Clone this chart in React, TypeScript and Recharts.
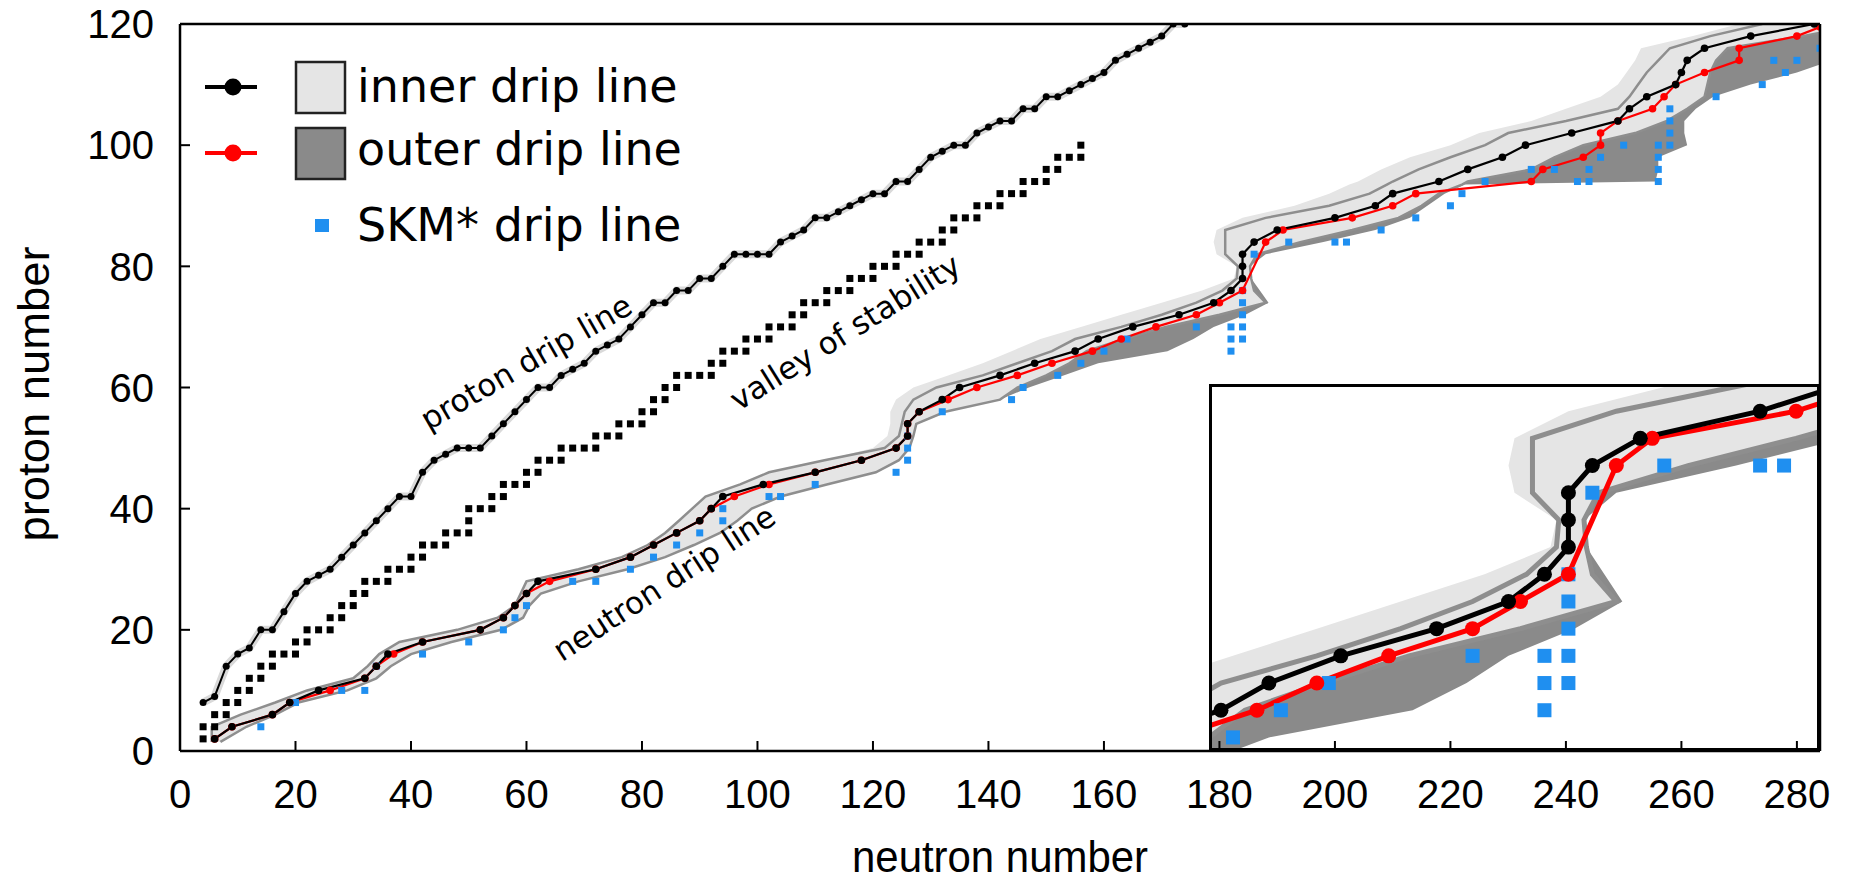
import React from 'react';
import { ComposedChart, Line, Area, Scatter, XAxis, YAxis } from 'recharts';

const W = 1858;
const H = 885;

const X_TICKS = [0, 20, 40, 60, 80, 100, 120, 140, 160, 180, 200, 220, 240, 260, 280];
const Y_TICKS = [0, 20, 40, 60, 80, 100, 120];

// proton drip line
const protonN = [4, 6, 8, 10, 12, 14, 16, 18, 20, 22, 24, 26, 28, 30, 32, 34, 36, 38, 40, 42, 44, 46, 48, 50, 52, 54, 56, 58, 60, 62, 64, 66, 68, 70, 72, 74, 76, 78, 80, 82, 84, 86, 88, 90, 92, 94, 96, 98, 100, 102, 104, 106, 108, 110, 112, 114, 116, 118, 120, 122, 124, 126, 128, 130, 132, 134, 136, 138, 140, 142, 144, 146, 148, 150, 152, 154, 156, 158, 160, 162, 164, 166, 168, 170, 172, 174];
const protonZ = [8, 9, 14, 16, 17, 20, 20, 23, 26, 28, 29, 30, 32, 34, 36, 38, 40, 42, 42, 46, 48, 49, 50, 50, 50, 52, 54, 56, 58, 60, 60, 62, 63, 64, 66, 67, 68, 70, 72, 74, 74, 76, 76, 78, 78, 80, 82, 82, 82, 82, 84, 85, 86, 88, 88, 89, 90, 91, 92, 92, 94, 94, 96, 98, 99, 100, 100, 102, 103, 104, 104, 106, 106, 108, 108, 109, 110, 111, 112, 114, 115, 116, 117, 118, 120, 120];

// valley of stability
const valleyN = [4, 4, 6, 6, 8, 8, 10, 10, 12, 12, 14, 14, 16, 16, 18, 20, 20, 22, 22, 24, 26, 26, 28, 28, 30, 30, 32, 32, 34, 36, 36, 38, 40, 40, 42, 42, 44, 46, 46, 48, 50, 50, 50, 52, 54, 54, 56, 56, 58, 60, 60, 62, 62, 64, 66, 66, 68, 70, 72, 72, 74, 76, 76, 78, 80, 80, 82, 82, 84, 84, 86, 86, 88, 90, 92, 92, 94, 94, 96, 98, 98, 100, 102, 102, 104, 106, 106, 108, 108, 110, 112, 112, 114, 116, 116, 118, 120, 120, 122, 124, 124, 126, 128, 128, 130, 132, 132, 134, 134, 136, 138, 138, 140, 142, 142, 144, 146, 146, 148, 150, 150, 152, 152, 154, 156, 156];
const valleyZ = [2, 4, 4, 6, 6, 8, 8, 10, 10, 12, 12, 14, 14, 16, 16, 16, 18, 18, 20, 20, 20, 22, 22, 24, 24, 26, 26, 28, 28, 28, 30, 30, 30, 32, 32, 34, 34, 34, 36, 36, 36, 38, 40, 40, 40, 42, 42, 44, 44, 44, 46, 46, 48, 48, 48, 50, 50, 50, 50, 52, 52, 52, 54, 54, 54, 56, 56, 58, 58, 60, 60, 62, 62, 62, 62, 64, 64, 66, 66, 66, 68, 68, 68, 70, 70, 70, 72, 72, 74, 74, 74, 76, 76, 76, 78, 78, 78, 80, 80, 80, 82, 82, 82, 84, 84, 84, 86, 86, 88, 88, 88, 90, 90, 90, 92, 92, 92, 94, 94, 94, 96, 96, 98, 98, 98, 100];

// inner (black) neutron drip line
const innerN = [6, 9, 16, 19, 24, 32, 34, 36, 42, 52, 56, 58, 60, 62, 72, 78, 82, 86, 90, 92, 94, 101, 110, 118, 124, 126, 126, 128, 132, 135, 142, 148, 155, 159, 165, 173, 179, 182, 184, 184, 184, 186, 190, 200, 207, 210, 218, 223, 229, 233, 241, 249, 251, 254, 259, 260, 261, 264, 272, 283];
const innerZ = [2, 4, 6, 8, 10, 12, 14, 16, 18, 20, 22, 24, 26, 28, 30, 32, 34, 36, 38, 40, 42, 44, 46, 48, 50, 52, 54, 56, 58, 60, 62, 64, 66, 68, 70, 72, 74, 76, 78, 80, 82, 84, 86, 88, 90, 92, 94, 96, 98, 100, 102, 104, 106, 108, 110, 112, 114, 116, 118, 120];

// outer (red) neutron drip line
const outerN = [6, 9, 16, 19, 26, 32, 34, 37, 42, 52, 56, 58, 60, 64, 72, 78, 82, 86, 90, 92, 96, 102, 110, 118, 124, 126, 126, 128, 133, 138, 145, 151, 158, 163, 169, 176, 180, 184, 188, 191, 203, 210, 214, 234, 236, 243, 246, 246, 249, 255, 257, 259, 264, 270, 270, 280, 284];
const outerZ = [2, 4, 6, 8, 10, 12, 14, 16, 18, 20, 22, 24, 26, 28, 30, 32, 34, 36, 38, 40, 42, 44, 46, 48, 50, 52, 54, 56, 58, 60, 62, 64, 66, 68, 70, 72, 74, 76, 84, 86, 88, 90, 92, 94, 96, 98, 100, 102, 104, 106, 108, 110, 112, 114, 116, 118, 119.5];

// SKM* drip line
const skmN = [14, 20, 28, 32, 34, 42, 50, 56, 58, 60, 68, 72, 78, 82, 86, 90, 94, 94, 102, 104, 110, 124, 126, 126, 126, 132, 144, 146, 152, 156, 160, 164, 176, 182, 182, 182, 184, 184, 184, 184, 184, 186, 192, 200, 202, 208, 214, 220, 222, 226, 234, 238, 242, 244, 244, 246, 250, 256, 256, 256, 256, 258, 258, 258, 258, 266, 274, 276, 278, 280, 284];
const skmZ = [4, 8, 10, 10, 14, 16, 18, 20, 22, 24, 28, 28, 30, 32, 34, 36, 38, 40, 42, 42, 44, 46, 48, 50, 52, 56, 58, 60, 62, 64, 66, 68, 70, 66, 68, 70, 68, 70, 72, 74, 76, 82, 84, 84, 84, 86, 88, 90, 92, 94, 96, 96, 94, 94, 96, 98, 100, 94, 96, 98, 100, 100, 102, 104, 106, 108, 110, 114, 112, 114, 116];

// uncertainty bands, given as neutron-number ranges at each proton number
const bandZ = [1.5, 4, 6, 8, 10, 12, 14, 16, 18, 20, 22, 24, 26, 28, 30, 32, 34, 36, 38, 40, 42, 44, 46, 48, 50, 52, 54, 56, 58, 60, 62, 64, 66, 68, 70, 72, 74, 76, 78, 80, 82, 84, 86, 88, 90, 92, 93.5, 94, 96, 98, 100, 102, 104, 106, 108, 110, 112, 114, 116, 118, 120];
const bandLightLo = [5.5, 5.5, 10.5, 16.5, 22, 30, 32.5, 34.5, 38, 48, 55, 58, 59, 60, 69, 76.5, 81, 84, 86.4, 88.7, 91, 97, 102, 111.6, 120, 122.5, 123, 123, 124, 127, 133, 139, 144, 149, 156, 163, 170, 177, 182.5, 183, 179.5, 179, 179.5, 184, 193, 199, 202.5, 204, 208, 213, 220, 225, 234, 240, 246, 249, 250.5, 252, 253, 262, 270];
const bandOutLo = [5.5, 5.5, 10.5, 16.5, 22, 30, 32.5, 34.5, 38, 48, 55, 58, 59, 60, 69, 76.5, 81, 84, 86.4, 88.7, 91, 97, 102, 111.6, 122, 124.5, 125, 125.5, 127, 131, 139, 145, 151, 155, 163, 170, 176, 180.5, 183, 183.2, 181, 181, 181, 188, 199, 206, 209, 210, 214.5, 220, 226, 230, 240, 249, 251, 252.5, 254, 256, 258, 265, 274];
const bandOutHi = [7, 11.5, 16.5, 20.5, 29, 34, 36.5, 40, 47, 55.6, 59.4, 60.5, 62.5, 69, 77.5, 84, 89, 93.5, 96.5, 99, 104, 112, 120.5, 124.5, 126.3, 127, 127.5, 132.5, 142, 145, 150, 154, 157, 163.5, 170.7, 180, 188, 186, 185.5, 185.3, 186.5, 194, 203, 211, 215, 218, 222, 223, 234, 238, 243, 252, 257.5, 261, 264, 264.5, 265, 266, 268, 281, 292];
const bandDarkHi = [7, 11.5, 16.5, 20.5, 29, 34, 36.5, 40, 47, 55.6, 59.4, 60.5, 62.5, 69, 77.5, 84, 89, 93.5, 96.5, 99, 104, 112, 120.5, 124.5, 126.3, 127, 127.5, 132.5, 142, 147, 153, 159, 171, 175.5, 179, 184.5, 188.5, 187, 185.5, 185.3, 188, 198, 207, 213, 216, 219, 222.5, 255.5, 256, 256, 261, 260.5, 260.5, 262.5, 265.5, 272, 280, 286, 292, 296, 300];

const protonRows = protonN.map((n, i) => ({ n, z: protonZ[i] }));
const valleyRows = valleyN.map((n, i) => ({ n, z: valleyZ[i] }));
const innerRows = innerN.map((n, i) => ({ n, z: innerZ[i] }));
const outerRows = outerN.map((n, i) => ({ n, z: outerZ[i] }));
const skmRows = skmN.map((n, i) => ({ n, z: skmZ[i] }));
const bandRows = bandZ.map((z, i) => ({
  z,
  light: [bandLightLo[i], bandOutHi[i]],
  dark: [bandOutLo[i], bandDarkHi[i]],
  outLo: bandOutLo[i],
  outHi: bandOutHi[i],
}));

const LIGHT = '#e5e5e5';
const DARK = '#8a8a8a';
const EDGE = '#8e8e8e';
const BLUE = '#1f8ff0';
const RED = '#ff0000';

const square = (size: number, color: string) => (p: any) => (
  <rect x={p.cx - size / 2} y={p.cy - size / 2} width={size} height={size} fill={color} />
);

function dripSeries(k: string, big: boolean) {
  const lw = big ? 5 : 2.2;
  const r = big ? 7.5 : 3.8;
  const ew = big ? 5 : 2.5;
  return [
    <Area key={k + 'dark'} data={bandRows} dataKey="dark" type="linear" fill={DARK} fillOpacity={1} stroke="none" isAnimationActive={false} />,
    <Area key={k + 'light'} data={bandRows} dataKey="light" type="linear" fill={LIGHT} fillOpacity={1} stroke="none" isAnimationActive={false} />,
    <Line key={k + 'elo'} data={bandRows} dataKey="outLo" type="linear" stroke={EDGE} strokeWidth={ew} dot={false} isAnimationActive={false} />,
    <Line key={k + 'ehi'} data={bandRows} dataKey="outHi" type="linear" stroke={EDGE} strokeWidth={ew} dot={false} isAnimationActive={false} />,
    <Scatter key={k + 'skm'} data={skmRows} shape={square(big ? 14 : 7, BLUE)} isAnimationActive={false} />,
    <Line key={k + 'outer'} data={outerRows} dataKey="n" type="linear" stroke={RED} strokeWidth={lw} dot={{ r, fill: RED, stroke: 'none' }} isAnimationActive={false} />,
    <Line key={k + 'inner'} data={innerRows} dataKey="n" type="linear" stroke="#000" strokeWidth={lw} dot={{ r, fill: '#000', stroke: 'none' }} isAnimationActive={false} />,
  ];
}

const tickFont = { fontSize: 40, fill: '#000', fontFamily: 'Liberation Sans, Arial, sans-serif' };

export default function App() {
  return (
    <div style={{ position: 'absolute', left: 0, top: 0, width: W, height: H, background: '#fff' }}>
      <div style={{ position: 'absolute', left: 0, top: 0 }}>
        <ComposedChart width={W} height={H} layout="vertical" margin={{ top: 24, right: 38, bottom: 134, left: 180 }}>
          <XAxis type="number" dataKey="n" domain={[0, 284]} allowDataOverflow hide height={0} />
          <YAxis type="number" dataKey="z" domain={[0, 120]} allowDataOverflow hide width={0} reversed />
          <Line data={protonRows} dataKey="n" type="linear" stroke="#d9d9d9" strokeWidth={8} dot={false} isAnimationActive={false} />
          <Line data={protonRows} dataKey="n" type="linear" stroke="#000" strokeWidth={2} dot={{ r: 3.5, fill: '#000', stroke: 'none' }} isAnimationActive={false} />
          <Scatter data={valleyRows} shape={square(7, '#000')} isAnimationActive={false} />
          {dripSeries('m', false)}
        </ComposedChart>
      </div>

      <div style={{ position: 'absolute', left: 1209, top: 384, width: 611, height: 367, background: '#fff' }}>
        <ComposedChart width={611} height={367} layout="vertical" margin={{ top: 0, right: 0, bottom: 0, left: 0 }}>
          <XAxis type="number" dataKey="n" domain={[154, 205]} allowDataOverflow hide height={0} />
          <YAxis type="number" dataKey="z" domain={[63, 90]} allowDataOverflow hide width={0} reversed />
          {dripSeries('i', true)}
        </ComposedChart>
        <div style={{ position: 'absolute', left: 0, top: 0, right: 0, bottom: 0, border: '3px solid #000' }} />
      </div>

      <div style={{ position: 'absolute', left: 0, top: 0, pointerEvents: 'none' }}>
        <ComposedChart width={W} height={H} data={innerRows} margin={{ top: 23, right: 37, bottom: 104, left: 179 }}>
          <XAxis xAxisId="b" dataKey="n" type="number" orientation="bottom" domain={[0, 284]} allowDataOverflow ticks={X_TICKS} interval={0} height={30}
            tickSize={-10} tickMargin={39} axisLine={{ stroke: '#000', strokeWidth: 2.5 }} tickLine={{ stroke: '#000', strokeWidth: 2 }} tick={tickFont} />
          <XAxis xAxisId="t" dataKey="n" type="number" orientation="top" domain={[0, 284]} allowDataOverflow ticks={X_TICKS} interval={0} height={1}
            tickSize={-10} axisLine={{ stroke: '#000', strokeWidth: 2.5 }} tickLine={{ stroke: '#000', strokeWidth: 2 }} tick={false} />
          <YAxis yAxisId="l" type="number" orientation="left" domain={[0, 120]} allowDataOverflow ticks={Y_TICKS} interval={0} width={1}
            tickSize={-10} tickMargin={36} axisLine={{ stroke: '#000', strokeWidth: 2.5 }} tickLine={{ stroke: '#000', strokeWidth: 2 }} tick={tickFont} />
          <YAxis yAxisId="r" type="number" orientation="right" domain={[0, 120]} allowDataOverflow ticks={Y_TICKS} interval={0} width={1}
            tickSize={-10} axisLine={{ stroke: '#000', strokeWidth: 2.5 }} tickLine={{ stroke: '#000', strokeWidth: 2 }} tick={false} />
        </ComposedChart>
      </div>

      <svg width={W} height={H} style={{ position: 'absolute', left: 0, top: 0, pointerEvents: 'none' }}>
        <g fontFamily="DejaVu Sans, sans-serif" fill="#000">
          <line x1={205} x2={257} y1={87} y2={87} stroke="#000" strokeWidth={4} />
          <circle cx={233} cy={87} r={8.5} fill="#000" />
          <rect x={296} y={62} width={49} height={51} fill={LIGHT} stroke="#222" strokeWidth={2.5} />
          <text x={357} y={102} fontSize={46}>inner drip line</text>

          <line x1={205} x2={257} y1={153} y2={153} stroke={RED} strokeWidth={4} />
          <circle cx={233} cy={153} r={8.5} fill={RED} />
          <rect x={296} y={128} width={49} height={51} fill={DARK} stroke="#222" strokeWidth={2.5} />
          <text x={357} y={165} fontSize={46}>outer drip line</text>

          <rect x={315} y={219} width={14} height={13} fill={BLUE} />
          <text x={357} y={241} fontSize={46}>SKM* drip line</text>

          <text x={526} y={362} fontSize={31} textAnchor="middle" dominantBaseline="central" transform="rotate(-30 526 362)">proton drip line</text>
          <text x={845} y={332} fontSize={31} textAnchor="middle" dominantBaseline="central" transform="rotate(-32 845 332)">valley of stability</text>
          <text x={664} y={583} fontSize={31} textAnchor="middle" dominantBaseline="central" transform="rotate(-33 664 583)">neutron drip line</text>
        </g>
        <g fontFamily="Liberation Sans, Arial, sans-serif" fill="#000" fontSize={44}>
          <text x={1000} y={872} textAnchor="middle" textLength={296} lengthAdjust="spacingAndGlyphs">neutron number</text>
          <text x={49} y={394} textAnchor="middle" textLength={295} lengthAdjust="spacingAndGlyphs" transform="rotate(-90 49 394)">proton number</text>
        </g>
      </svg>
    </div>
  );
}
